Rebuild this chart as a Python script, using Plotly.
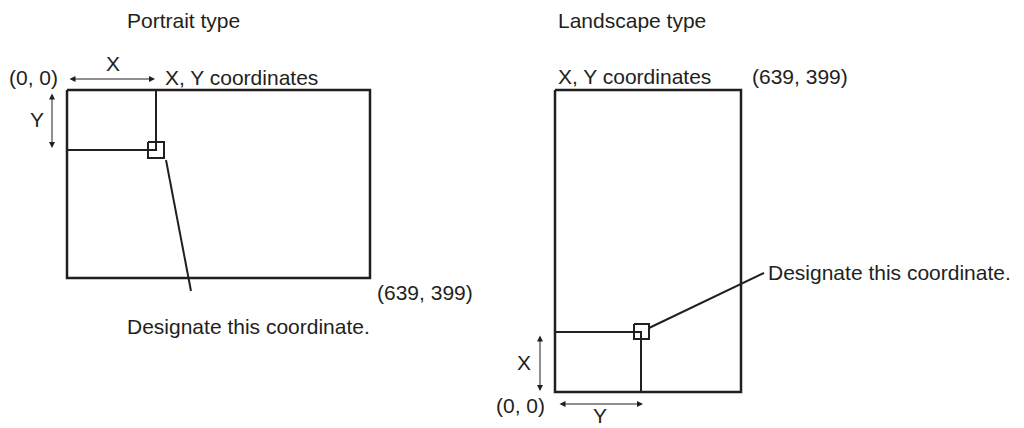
import plotly.graph_objects as go

# Diagram geometry (pixel space of the picture: x right, y down)
portrait_outer_x = [67, 370, 370, 67, 67]
portrait_outer_y = [90, 90, 278, 278, 90]
portrait_inner_x = [67, 156, 156]
portrait_inner_y = [150, 150, 90]
portrait_box_x = [148, 164, 164, 148, 148]
portrait_box_y = [142, 142, 158, 158, 142]
portrait_leader_x = [166, 191]
portrait_leader_y = [160, 291]

landscape_outer_x = [555, 741, 741, 555, 555]
landscape_outer_y = [90, 90, 392, 392, 90]
landscape_inner_x = [555, 641, 641]
landscape_inner_y = [332, 332, 392]
landscape_box_x = [634, 649, 649, 634, 634]
landscape_box_y = [324, 324, 339, 339, 324]
landscape_leader_x = [649, 764]
landscape_leader_y = [328, 273]

# Text labels
labels = ["Portrait type", "(0, 0)", "X", "X, Y coordinates", "Y", "(639, 399)",
          "Designate this coordinate.",
          "Landscape type", "X, Y coordinates", "(639, 399)", "Designate this coordinate.",
          "X", "(0, 0)", "Y"]
label_x = [183, 33, 113, 163, 37, 375, 248,
           632, 556, 750, 766, 524, 520, 600]
label_y = [20, 77, 63, 77, 119, 292, 326,
           20, 76, 76, 272, 362, 405, 415]
label_anchor = ["center", "center", "center", "left", "center", "left", "center",
                "center", "left", "left", "left", "center", "center", "center"]

# Double arrows: (x0, y0, x1, y1)
arrows = [(68, 79, 155, 79), (52, 92, 52, 148), (540, 334, 540, 391), (558, 404, 643, 404)]

fig = go.Figure()

def line(xs, ys, w):
    fig.add_trace(go.Scatter(x=xs, y=ys, mode="lines",
                             line=dict(color="#231f20", width=w),
                             hoverinfo="skip", showlegend=False))

line(portrait_outer_x, portrait_outer_y, 2.5)
line(portrait_inner_x, portrait_inner_y, 2)
line(portrait_box_x, portrait_box_y, 2)
line(portrait_leader_x, portrait_leader_y, 2)
line(landscape_outer_x, landscape_outer_y, 2.5)
line(landscape_inner_x, landscape_inner_y, 2)
line(landscape_box_x, landscape_box_y, 2)
line(landscape_leader_x, landscape_leader_y, 2)

for t, x, y, a in zip(labels, label_x, label_y, label_anchor):
    fig.add_annotation(x=x, y=y, text=t, showarrow=False, xanchor=a, yanchor="middle",
                       font=dict(family="Liberation Sans, Arial", size=21, color="#231f20"))

for x0, y0, x1, y1 in arrows:
    fig.add_annotation(x=x1, y=y1, ax=x0, ay=y0, xref="x", yref="y", axref="x", ayref="y",
                       text="", showarrow=True, arrowhead=2, startarrowhead=2,
                       arrowside="end+start", arrowwidth=1, arrowsize=1.2,
                       arrowcolor="#231f20")

# The page body adds an 8px margin, so the plot is 8px smaller and the ranges start at 8
fig.update_xaxes(range=[8, 1024], visible=False)
fig.update_yaxes(range=[428, 8], visible=False)
fig.update_layout(width=1016, height=420, margin=dict(l=0, r=0, t=0, b=0),
                  plot_bgcolor="white", paper_bgcolor="white")

fig.write_html("out.html")
